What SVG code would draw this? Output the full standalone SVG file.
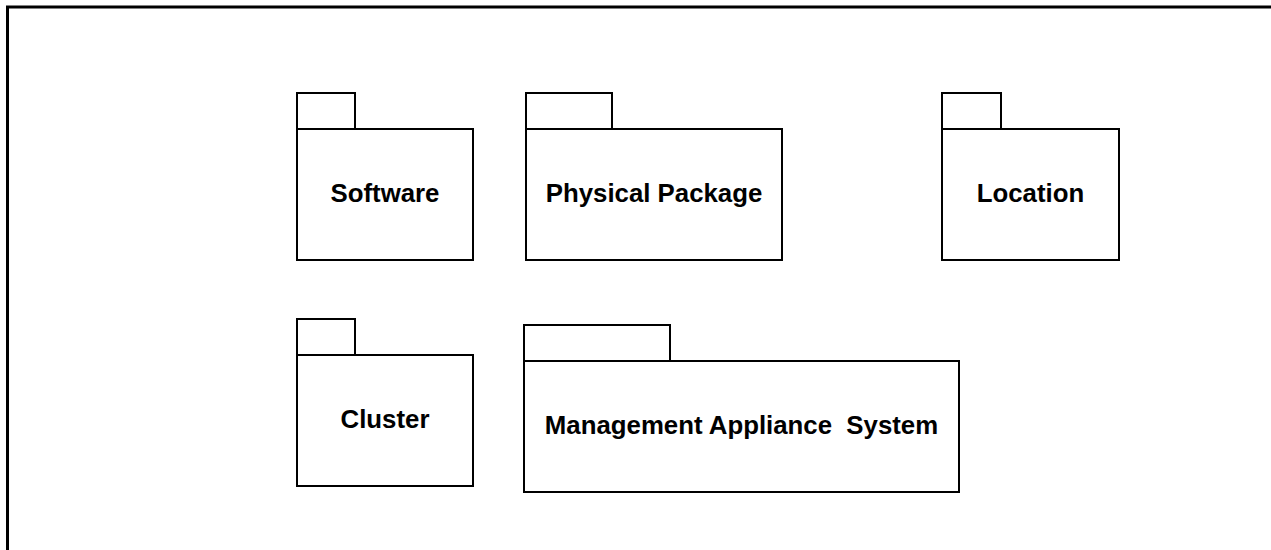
<svg xmlns="http://www.w3.org/2000/svg" width="1271" height="550" viewBox="0 0 1271 550">
<style>
.box{fill:#fff;stroke:#000;stroke-width:2}
.lbl{font-family:"Liberation Sans",Arial,sans-serif;font-weight:bold;font-size:25.8px;fill:#000;text-anchor:middle;white-space:pre}
</style>
<rect width="1271" height="550" fill="#fff"/>
<path d="M7.5 550 V7 H1271" fill="none" stroke="#000" stroke-width="3"/>
<g id="software">
<rect class="box" x="297" y="93" width="58" height="36"/>
<rect class="box" x="297" y="129" width="176" height="131"/>
<text class="lbl" x="385" y="202">Software</text>
</g>
<g id="physical-package">
<rect class="box" x="526" y="93" width="86" height="36"/>
<rect class="box" x="526" y="129" width="256" height="131"/>
<text class="lbl" x="654" y="202">Physical Package</text>
</g>
<g id="location">
<rect class="box" x="942" y="93" width="59" height="36"/>
<rect class="box" x="942" y="129" width="177" height="131"/>
<text class="lbl" x="1030.5" y="202">Location</text>
</g>
<g id="cluster">
<rect class="box" x="297" y="319" width="58" height="36"/>
<rect class="box" x="297" y="355" width="176" height="131"/>
<text class="lbl" x="385" y="428">Cluster</text>
</g>
<g id="management-appliance-system">
<rect class="box" x="524" y="325" width="146" height="36"/>
<rect class="box" x="524" y="361" width="435" height="131"/>
<text class="lbl" x="741.5" y="434" xml:space="preserve">Management Appliance  System</text>
</g>
<g id="connectors"></g>
</svg>
